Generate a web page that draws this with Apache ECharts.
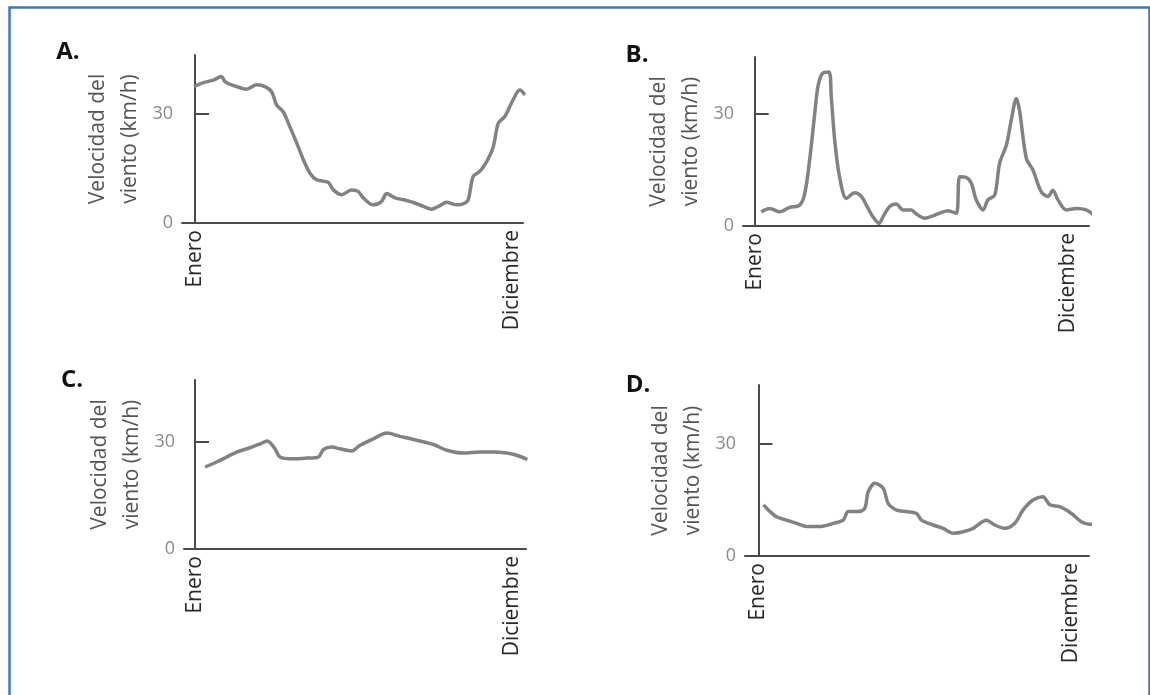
<!DOCTYPE html>
<html>
<head>
<meta charset="utf-8">
<script src="https://cdn.jsdelivr.net/npm/echarts@6/dist/echarts.min.js"></script>
<style>
  html, body { margin: 0; padding: 0; background: #ffffff; }
  #chart { width: 1150px; height: 695px; }
</style>
</head>
<body>
<div id="chart"></div>
<script>
// Panel letters and texts
const panelLabels = ['A.', 'B.', 'C.', 'D.'];
const yAxisTitle = 'Velocidad del\nviento (km/h)';
const xTickLabels = ['Enero', 'Diciembre'];
const xTickMonths = [0, 11];
const yTickValues = [0, 30];

// Panel A (month index, wind speed km/h)
const monthsA = [-0.03,0.29,0.64,0.92,1.04,1.27,1.79,2.14,2.43,2.66,2.83,3.06,3.29,3.53,3.76,3.99,4.22,4.62,4.80,5.09,5.43,5.66,5.84,6.18,6.47,6.65,6.94,7.34,7.63,7.92,8.21,8.50,8.73,9.08,9.31,9.48,9.65,9.88,10.12,10.35,10.52,10.75,10.92,11.16,11.27,11.45];
const windA   = [37.5,38.6,39.3,40.3,38.9,38.0,36.8,38.0,37.5,36.1,32.5,30.6,26.5,22.0,17.4,13.7,11.9,11.2,9.1,7.8,9.1,8.7,6.9,5.0,5.9,8.1,6.9,6.2,5.5,4.6,3.8,4.8,5.7,5.0,5.3,6.4,12.8,14.2,16.9,21.0,27.4,29.3,32.0,35.7,36.6,35.2];

// Panel B
const monthsB = [0.23,0.53,0.88,1.23,1.58,1.76,1.93,2.11,2.22,2.38,2.61,2.69,2.81,2.98,3.22,3.51,3.75,3.92,4.15,4.37,4.51,4.74,4.97,5.21,5.50,5.68,5.97,6.26,6.55,6.79,7.08,7.20,7.43,7.61,7.78,8.02,8.19,8.43,8.60,8.84,9.01,9.19,9.30,9.54,9.77,10.06,10.30,10.47,10.65,10.94,11.29,11.64,11.99];
const windB   = [3.8,4.7,3.8,5.0,5.6,8.75,17.7,30.2,37.3,40.9,41.3,34.6,23.0,13.2,7.4,8.9,7.9,5.6,2.5,0.7,2.5,5.2,5.9,4.3,4.3,3.2,2.1,2.7,3.6,4.1,3.4,13.2,13.0,11.4,7.0,4.3,7.0,8.3,16.8,21.7,28.4,34.2,31.0,18.1,15.0,9.2,7.9,9.6,7.0,4.3,4.7,4.3,2.5];

// Panel C
const monthsC = [0.35,0.75,1.10,1.45,1.91,2.26,2.51,2.78,2.95,3.41,3.88,4.28,4.46,4.75,5.03,5.44,5.73,6.19,6.66,7.12,7.70,8.28,8.74,9.32,9.90,10.36,10.82,11.17,11.54];
const windC   = [23.0,24.4,25.8,27.2,28.4,29.5,30.3,28.1,25.8,25.3,25.5,25.8,27.9,28.6,28.1,27.5,29.1,30.9,32.5,31.6,30.5,29.3,27.7,26.9,27.2,27.2,26.9,26.3,25.1];

// Panel D
const monthsD = [0.18,0.41,0.64,0.99,1.35,1.70,2.16,2.63,2.98,3.16,3.51,3.74,3.86,4.10,4.39,4.56,4.86,5.21,5.56,5.73,6.14,6.49,6.85,7.20,7.55,8.01,8.31,8.66,9.01,9.30,9.65,10.00,10.24,10.59,11.00,11.35,11.64,12.05];
const windD   = [13.7,11.9,10.5,9.6,8.75,7.9,7.9,8.75,9.6,11.9,11.9,12.8,17.2,19.5,18.1,14.1,12.3,11.9,11.4,9.6,8.3,7.4,6.1,6.5,7.4,9.6,8.3,7.4,8.75,12.3,15.0,15.9,13.7,13.2,11.4,9.2,8.5,8.75];

const panelMonths = [monthsA, monthsB, monthsC, monthsD];
const panelWind = [windA, windB, windC, windD];

// Layout (pixels) for each panel
const layout = [
  { left: 182, top: 55,  width: 341, height: 168, xMin: -0.45, xMax: 11.38, yMax: 46.2, lx: 68,  ly: 52 },
  { left: 743, top: 57,  width: 346, height: 169, xMin: -0.41, xMax: 11.74, yMax: 45.3, lx: 637, ly: 55 },
  { left: 184, top: 380, width: 342, height: 169, xMin: -0.38, xMax: 11.49, yMax: 47.4, lx: 72,  ly: 380 },
  { left: 745, top: 385, width: 344, height: 171, xMin: -0.47, xMax: 11.62, yMax: 45.8, lx: 638, ly: 385 }
];

const FONT = '"Open Sans", "Noto Sans", sans-serif';
const grids = [], xAxes = [], yAxes = [], series = [], graphics = [];

graphics.push({
  type: 'rect', left: 7, top: 5, silent: true,
  shape: { width: 1140, height: 710 },
  style: { fill: 'none', stroke: '#3c74c6', lineWidth: 2.5 }
});

layout.forEach((L, i) => {
  grids.push({ left: L.left, top: L.top, width: L.width, height: L.height, containLabel: false });
  xAxes.push({
    type: 'value', gridIndex: i, min: L.xMin, max: L.xMax,
    splitLine: { show: false },
    axisLine: { show: true, onZero: false, lineStyle: { color: '#4a4a4a', width: 2 } },
    axisTick: { show: false },
    axisLabel: {
      customValues: xTickMonths,
      rotate: 90, margin: 7,
      color: '#2a2a2a', fontSize: 21, fontFamily: FONT,
      formatter: v => xTickLabels[xTickMonths.indexOf(v)] || ''
    }
  });
  yAxes.push({
    type: 'value', gridIndex: i, min: 0, max: L.yMax,
    name: yAxisTitle, nameLocation: 'middle', nameRotate: 90, nameGap: 36,
    nameTextStyle: { color: '#555', fontSize: 21, fontFamily: FONT, lineHeight: 32 },
    splitLine: { show: false },
    axisLine: { show: true, lineStyle: { color: '#4a4a4a', width: 2 } },
    axisTick: { show: true, inside: true, length: 14, customValues: [30], lineStyle: { color: '#4a4a4a', width: 2 } },
    axisLabel: { customValues: yTickValues, margin: 9, color: '#8a8a8a', fontSize: 18, fontFamily: FONT }
  });
  series.push({
    type: 'line', xAxisIndex: i, yAxisIndex: i,
    data: panelMonths[i].map((m, k) => [m, panelWind[i][k]]),
    showSymbol: false, smooth: 0.3, clip: false,
    lineStyle: { color: '#828282', width: 3.5 },
    silent: true
  });
  graphics.push({
    type: 'text', x: L.lx, y: L.ly,
    style: { text: panelLabels[i], fill: '#111', font: 'bold 24px ' + FONT, textAlign: 'center', textVerticalAlign: 'middle' }
  });
});

const chart = echarts.init(document.getElementById('chart'));
chart.setOption({
  backgroundColor: '#ffffff',
  animation: false,
  grid: grids, xAxis: xAxes, yAxis: yAxes, series: series,
  graphic: graphics
});
</script>
</body>
</html>
